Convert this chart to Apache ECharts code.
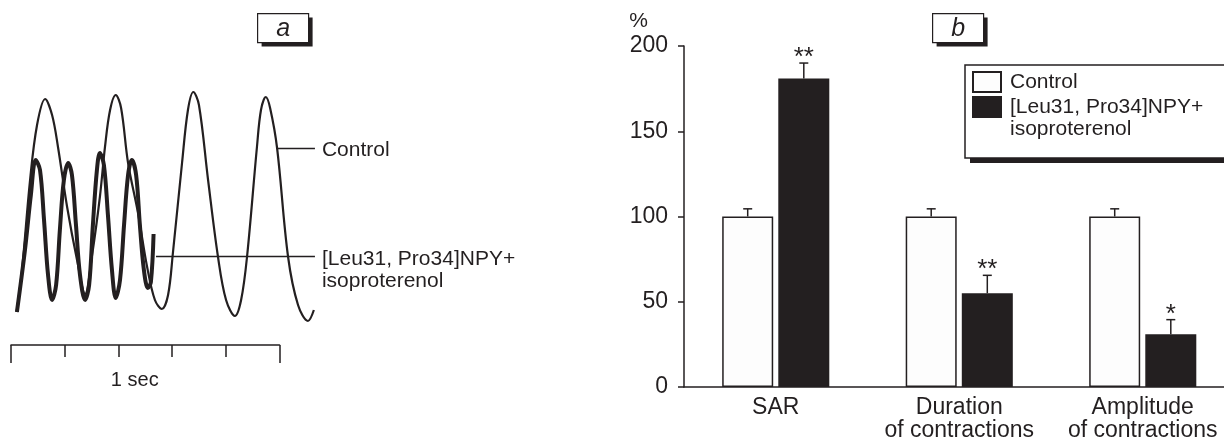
<!DOCTYPE html>
<html><head><meta charset="utf-8">
<script src="https://cdn.jsdelivr.net/npm/echarts@6/dist/echarts.min.js"></script>
<style>html,body{margin:0;padding:0;background:#fff}#c{width:1224px;height:444px}</style>
</head><body><div id="c"></div>
<script>
const INK = '#231f20';
const FONT = 'Liberation Sans, Arial, Helvetica, sans-serif';

// ---------- Panel b: bar chart data ----------
const categories = ['SAR', 'Duration\nof contractions', 'Amplitude\nof contractions'];
const controlName = 'Control';
const treatName = '[Leu31, Pro34]NPY+\nisoproterenol';
const controlValues = [100, 100, 100];
const controlErrors = [4.5, 4.5, 4.5];
const treatValues = [181, 55, 31];
const treatErrors = [9, 10.5, 8.5];
const significance = ['**', '**', '*'];
const yMin = 0, yMax = 200, yStep = 50;

// ---------- Panel a: traces (time in s, amplitude in arbitrary units) ----------
const controlTime = [0.021,0.041,0.071,0.097,0.127,0.153,0.175,0.209,0.246,0.276,0.302,0.331,0.350,0.369,0.390,0.410,0.436,0.473,0.507,0.536,0.562,0.585,0.603,0.637,0.659,0.679,0.700,0.734,0.771,0.801,0.834,0.857,0.879,0.916,0.931,0.949,0.965,0.991,1.032,1.069,1.106,1.128];
const controlAmp  = [18,60,150,205,231,215,183,123,70,36,75,133,183,220,235,222,167,117,63,30,21,35,77,167,220,238,225,150,73,30,14,30,73,183,220,233,222,182,73,25,9,20];
const treatTime = [0.022,0.052,0.074,0.092,0.108,0.123,0.138,0.153,0.168,0.182,0.197,0.213,0.227,0.242,0.257,0.276,0.291,0.305,0.320,0.331,0.346,0.361,0.376,0.390,0.406,0.421,0.436,0.450,0.466,0.480,0.495,0.510,0.521,0.531];
const treatAmp  = [18,80,135,170,160,110,55,30,45,100,150,167,155,105,55,30,45,105,160,177,165,115,60,32,50,105,155,170,155,105,60,42,48,96];
const controlLabelLine = [[0.991, 182], [1.132, 182]];
const treatLabelLine = [[0.540, 74], [1.132, 74]];
const scaleMin = 0, scaleMax = 1, scaleStep = 0.2;
const scaleLabel = '1 sec';
const panelLabels = ['a', 'b'];

const BAR_W = 51, BAR_GAP_PCT = 10;
const barOffset = (BAR_W + BAR_W * BAR_GAP_PCT / 100) / 2;

function zip(a, b) { return a.map((v, i) => [v, b[i]]); }

function errorRenderer(sign) {
  return function (params, api) {
    const i = api.value(0), v = api.value(1), e = api.value(2);
    const star = api.value(3);
    const p0 = api.coord([i, v]);
    const p1 = api.coord([i, v + e]);
    const x = p0[0] + sign * barOffset;
    const children = [
      { type: 'line', shape: { x1: x, y1: p0[1], x2: x, y2: p1[1] }, style: { stroke: INK, lineWidth: 1.5 } },
      { type: 'line', shape: { x1: x - 4.5, y1: p1[1], x2: x + 4.5, y2: p1[1] }, style: { stroke: INK, lineWidth: 1.5 } }
    ];
    if (star) {
      children.push({ type: 'text', x: x, y: p1[1] - 5,
        style: { text: star, fill: INK, fontSize: 26, fontFamily: FONT, align: 'center', verticalAlign: 'middle' } });
    }
    return { type: 'group', children: children };
  };
}

function panelBox(label, left, top) {
  return { type: 'group', left: left, top: top, children: [
    { type: 'rect', shape: { x: 4, y: 4, width: 51, height: 29 }, style: { fill: INK } },
    { type: 'rect', shape: { x: 0, y: 0, width: 51, height: 29 }, style: { fill: '#fff', stroke: INK, lineWidth: 1.2 } },
    { type: 'text', x: 25.5, y: 15.5, style: { text: label, fill: INK, fontSize: 25, fontStyle: 'italic',
      fontFamily: FONT, align: 'center', verticalAlign: 'middle' } }
  ] };
}

const chart = echarts.init(document.getElementById('c'));
chart.setOption({
  animation: false,
  backgroundColor: '#fff',
  textStyle: { fontFamily: FONT, color: INK },
  graphic: [
    panelBox(panelLabels[0], 257, 13),
    panelBox(panelLabels[1], 932, 13),
    { type: 'rect', left: 970, top: 70, z: -1, shape: { width: 300, height: 93 }, style: { fill: INK } }
  ],
  legend: {
    data: [controlName, treatName],
    formatter: function (name) { return name === treatName ? '\n' + name : name; },
    orient: 'vertical', left: 965, top: 65,
    itemWidth: 28, itemHeight: 20, itemGap: -19,
    padding: [6, 60, 18, 7],
    backgroundColor: '#fff', borderColor: INK, borderWidth: 1.5,
    textStyle: { fontSize: 21, color: INK, lineHeight: 22, fontFamily: FONT, padding: [0, 0, 0, 4] },
    icon: 'rect', selectedMode: false
  },
  grid: [
    { left: 11, top: 80, width: 322.2, height: 250, outerBoundsMode: 'none' },
    { left: 11, top: 344, width: 268.5, height: 1, outerBoundsMode: 'none' },
    { left: 684, top: 46, right: -10.5, height: 341, outerBoundsMode: 'none' }
  ],
  xAxis: [
    { gridIndex: 0, type: 'value', min: 0, max: 1.2, show: false },
    { gridIndex: 1, type: 'value', position: 'bottom', min: scaleMin, max: scaleMax, interval: scaleStep,
      axisLine: { show: true, lineStyle: { color: INK, width: 1.5 } },
      axisTick: { show: true, length: 12, lineStyle: { color: INK, width: 1.5 } },
      axisLabel: { show: false }, splitLine: { show: false },
      name: scaleLabel, nameLocation: 'middle', nameGap: 25,
      nameTextStyle: { fontSize: 20, color: INK, padding: [0, 21, 0, 0], fontFamily: FONT } },
    { gridIndex: 1, type: 'value', position: 'bottom', offset: 0, min: scaleMin, max: scaleMax, interval: scaleMax - scaleMin,
      axisLine: { show: false }, axisTick: { show: true, length: 18, lineStyle: { color: INK, width: 1.5 } },
      axisLabel: { show: false }, splitLine: { show: false } },
    { gridIndex: 2, type: 'category', data: categories,
      axisLine: { show: true, lineStyle: { color: INK, width: 1.5 } },
      axisTick: { show: false },
      axisLabel: { interval: 0, fontSize: 23, color: INK, lineHeight: 23, margin: 9, fontFamily: FONT } }
  ],
  yAxis: [
    { gridIndex: 0, type: 'value', min: 0, max: 250, show: false },
    { gridIndex: 1, type: 'value', min: 0, max: 1, show: false },
    { gridIndex: 2, type: 'value', min: yMin, max: yMax, interval: yStep,
      axisLine: { show: true, lineStyle: { color: INK, width: 1.5 } },
      axisTick: { show: true, length: 6, lineStyle: { color: INK, width: 1.5 } },
      axisLabel: { fontSize: 23, color: INK, margin: 16, fontFamily: FONT },
      splitLine: { show: false },
      name: '%', nameLocation: 'end', nameGap: 14,
      nameTextStyle: { fontSize: 21, color: INK, align: 'right', padding: [0, 36, 0, 0], fontFamily: FONT } }
  ],
  series: [
    { name: 'Control trace', type: 'line', xAxisIndex: 0, yAxisIndex: 0,
      data: zip(controlTime, controlAmp), showSymbol: false, smooth: 0.35,
      lineStyle: { color: INK, width: 2.2 }, itemStyle: { color: INK },
      markLine: { silent: true, symbol: ['none', 'none'],
        lineStyle: { color: INK, width: 1.3, type: 'solid' },
        label: { position: 'end', distance: 7, offset: [0, 2], formatter: controlName, fontSize: 21, color: INK, fontFamily: FONT },
        data: [[{ coord: controlLabelLine[0] }, { coord: controlLabelLine[1] }]] } },
    { name: 'Treatment trace', type: 'line', xAxisIndex: 0, yAxisIndex: 0,
      data: zip(treatTime, treatAmp), showSymbol: false, smooth: 0.35,
      lineStyle: { color: INK, width: 4 }, itemStyle: { color: INK },
      markLine: { silent: true, symbol: ['none', 'none'],
        lineStyle: { color: INK, width: 1.3, type: 'solid' },
        label: { position: 'end', distance: 7, offset: [0, 3], formatter: '\n' + treatName, fontSize: 21, lineHeight: 22,
          color: INK, fontFamily: FONT },
        data: [[{ coord: treatLabelLine[0] }, { coord: treatLabelLine[1] }]] } },
    { name: controlName, type: 'bar', xAxisIndex: 3, yAxisIndex: 2, data: controlValues,
      barWidth: BAR_W, barGap: BAR_GAP_PCT + '%',
      itemStyle: { color: '#fdfdfd', borderColor: INK, borderWidth: 1.5 } },
    { name: treatName, type: 'bar', xAxisIndex: 3, yAxisIndex: 2, data: treatValues,
      barWidth: BAR_W, barGap: BAR_GAP_PCT + '%',
      itemStyle: { color: INK, borderColor: INK, borderWidth: 1.5 } },
    { name: 'Control error', type: 'custom', xAxisIndex: 3, yAxisIndex: 2, clip: false, z: 3,
      renderItem: errorRenderer(-1),
      data: controlValues.map((v, i) => [i, v, controlErrors[i], ''])},
    { name: 'Treatment error', type: 'custom', xAxisIndex: 3, yAxisIndex: 2, clip: false, z: 3,
      renderItem: errorRenderer(1),
      data: treatValues.map((v, i) => [i, v, treatErrors[i], significance[i]])}
  ]
});
</script></body></html>
